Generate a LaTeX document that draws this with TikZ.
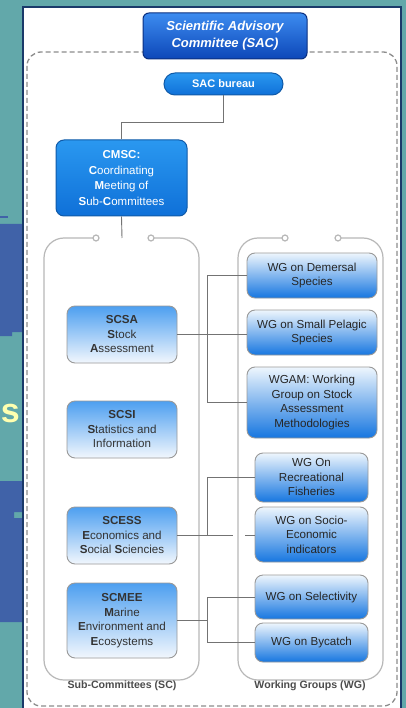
\documentclass[tikz,border=0pt]{standalone}
\usepackage{fontspec}
\setmainfont{Liberation Sans}
\definecolor{bgteal}{HTML}{62A8AA}
\definecolor{bandblue}{HTML}{4062A8}
\definecolor{syellow}{HTML}{FFFFB0}
\definecolor{navyedge}{HTML}{1A3A6A}
\definecolor{sacTop}{HTML}{3C8CF0}
\definecolor{sacBot}{HTML}{0D47B8}
\definecolor{sacEdge}{HTML}{0A2F80}
\definecolor{burTop}{HTML}{2A98F0}
\definecolor{burBot}{HTML}{0F70D8}
\definecolor{burEdge}{HTML}{105AA8}
\definecolor{scTop}{HTML}{4D9FF0}
\definecolor{scBot}{HTML}{F2F7FD}
\definecolor{wgTop}{HTML}{EEF6FD}
\definecolor{wgBot}{HTML}{1676E0}
\newcommand\bxfont{\fontsize{11.6}{14.5}\selectfont}
\begin{document}
\begin{tikzpicture}[x=1pt,y=-1pt,
  conn/.style={draw=black!55, line width=0.9pt},
  cont/.style={draw=black!28, line width=1.2pt},
  scbox/.style={draw=black!40, line width=0.9pt, rounded corners=8pt,
    top color=scTop, bottom color=scBot, minimum width=110pt,
    align=center, inner sep=0pt, text=black!80, font=\bxfont},
  wgbox/.style={draw=black!40, line width=0.9pt, rounded corners=8pt,
    top color=wgTop, bottom color=wgBot,
    align=center, inner sep=0pt, text=black!85, font=\bxfont},
  lbl/.style={font=\fontsize{10.6}{12}\selectfont\bfseries, text=black!70}
]
\useasboundingbox (0,0) rectangle (406,708);
% background slide
\fill[bgteal] (0,0) rectangle (406,708);
\fill[bandblue] (0,224) -- (23,224) -- (23,332) -- (12,332) -- (12,336) -- (0,336) -- cycle;
\fill[bandblue] (0,216) rectangle (8,218);
\fill[bandblue] (0,481) -- (23,481) -- (23,512) -- (14,512) -- (14,518) -- (23,518) -- (23,622) -- (0,622) -- cycle;
\node[anchor=base east, inner sep=0pt, text=syellow, font=\fontsize{34}{36}\selectfont\bfseries] (sletter) at (20,422) {s};
% white panel
\fill[white] (23,7) rectangle (401,708);
\draw[navyedge, line width=1.2pt] (23,708) -- (23,7) -- (401,7) -- (401,708);
% outer dashed frame
\draw[black!45, line width=1.3pt, dash pattern=on 5pt off 3pt, rounded corners=14pt] (27,52) rectangle (397,706);
% containers
\draw[cont, rounded corners=20pt] (93,238) -- (44,238) -- (44,680) -- (199,680) -- (199,238) -- (154,238);
\draw[cont, fill=white] (96,238) circle (3);
\draw[cont, fill=white] (151,238) circle (3);
\draw[cont, rounded corners=20pt] (282,238) -- (238,238) -- (238,680) -- (383,680) -- (383,238) -- (341,238);
\draw[cont, fill=white] (285,238) circle (3);
\draw[cont, fill=white] (338,238) circle (3);
% top nodes
\node[draw=sacEdge, line width=1pt, rounded corners=6pt, top color=sacTop, bottom color=sacBot,
  minimum width=164pt, minimum height=46pt, inner sep=0pt, align=center, text=white,
  font=\fontsize{13}{17}\selectfont\bfseries\itshape] (sac) at (225,36) {Scientific Advisory\\Committee (SAC)};
\node[draw=burEdge, line width=1pt, rounded corners=11pt, top color=burTop, bottom color=burBot,
  minimum width=119pt, minimum height=22pt, inner sep=0pt, text=white,
  font=\fontsize{11}{13}\selectfont\bfseries] (bureau) at (223.5,84) {SAC bureau};
\node[draw=burEdge, line width=1pt, rounded corners=8pt, top color=burTop, bottom color=burBot,
  minimum width=131pt, minimum height=76pt, inner sep=0pt, align=center, text=white,
  font=\fontsize{11.5}{15.5}\selectfont] (cmsc) at (121.5,178) {{\bfseries CMSC:}\\{\bfseries C}oordinating\\{\bfseries M}eeting of\\{\bfseries S}ub-{\bfseries C}ommittees};
% sub-committees
\node[scbox, minimum height=57pt] (scsa) at (122,334.5) {{\bfseries SCSA}\\{\bfseries S}tock\\{\bfseries A}ssessment};
\node[scbox, minimum height=57pt] (scsi) at (122,429.5) {{\bfseries SCSI}\\{\bfseries S}tatistics and\\Information};
\node[scbox, minimum height=57pt] (scess) at (122,535.5) {{\bfseries SCESS}\\{\bfseries E}conomics and\\{\bfseries S}ocial {\bfseries S}ciencies};
\node[scbox, minimum height=75pt] (scmee) at (122,620.5) {{\bfseries SCMEE}\\{\bfseries M}arine\\{\bfseries E}nvironment and\\{\bfseries E}cosystems};
% working groups
\node[wgbox, minimum width=130pt, minimum height=45pt] (dem) at (312,275.5) {WG on Demersal\\Species};
\node[wgbox, minimum width=130pt, minimum height=45pt] (sp) at (312,332.5) {WG on Small Pelagic\\Species};
\node[wgbox, minimum width=130pt, minimum height=71pt] (wgam) at (312,402.5) {WGAM: Working\\Group on Stock\\Assessment\\Methodologies};
\node[wgbox, minimum width=113pt, minimum height=49pt] (rec) at (311.5,477.5) {WG On\\Recreational\\Fisheries};
\node[wgbox, minimum width=113pt, minimum height=55pt] (soc) at (311.5,534.5) {WG on Socio-\\Economic\\indicators};
\node[wgbox, minimum width=113pt, minimum height=44pt] (sel) at (311.5,597) {WG on Selectivity};
\node[wgbox, minimum width=113pt, minimum height=39pt] (byc) at (311.5,642.5) {WG on Bycatch};
% labels
\node[lbl] (sclbl) at (122,686) {Sub-Committees (SC)};
\node[lbl] (wglbl) at (310,686) {Working Groups (WG)};
% connectors
\coordinate (sctop) at (122,238);
\coordinate (busx) at (207,0);
\coordinate (gapL) at (233,0);
\coordinate (gapR) at (245,0);
\draw[conn] (bureau.south) -- ++(0,27) -| (cmsc.north);
\draw[conn] (cmsc.south) -- (sctop);
\draw[conn] (scsa.east) -- (scsa.east -| sp.west);
\draw[conn] (dem.west) -- (dem.west -| busx) |- (wgam.west);
\draw[conn] (scess.east) -- (scess.east -| busx) |- (rec.west);
\draw[conn] (scess.east -| busx) -- (scess.east -| gapL);
\draw[conn] (scess.east -| gapR) -- (scess.east -| soc.west);
\draw[conn] (scmee.east) -- (scmee.east -| busx);
\draw[conn] (sel.west) -- (sel.west -| busx) |- (byc.west);
\end{tikzpicture}
\end{document}
